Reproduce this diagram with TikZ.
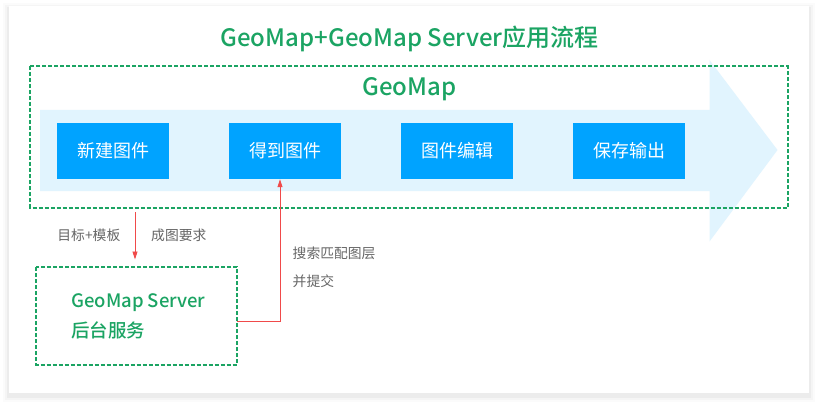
\documentclass[tikz,border=0pt]{standalone}
\usepackage{fontspec}
\setmainfont{Noto Sans CJK SC}
\newfontfamily\medfont{Noto Sans CJK SC Medium}
\usetikzlibrary{arrows.meta}
\definecolor{gmgreen}{HTML}{1BA463}
\definecolor{gmblue}{HTML}{00A3FF}
\definecolor{gmband}{HTML}{E1F4FE}
\definecolor{gmred}{HTML}{F04A4A}
\definecolor{gmgray}{HTML}{666666}
\tikzset{
  stepbox/.style={fill=gmblue, minimum width=112pt, minimum height=56pt, inner sep=0pt, text=white, font=\fontsize{18}{21}\selectfont},
  greendash/.style={draw=gmgreen, line width=2pt, dash pattern=on 4pt off 2pt},
  redline/.style={draw=gmred, line width=0.9pt},
  redtip/.style={-{Triangle[length=8pt,width=5pt]}},
  lbl/.style={text=gmgray, font=\fontsize{13.8}{16}\selectfont, inner sep=0pt},
  heading/.style={text=gmgreen, font=\medfont\fontsize{24}{28}\selectfont},
  srvtext/.style={text=gmgreen, font=\medfont\fontsize{18.5}{22}\selectfont, anchor=west, inner sep=0pt},
}
\begin{document}
\begin{tikzpicture}[x=1pt,y=-1pt]
\useasboundingbox (0,0) rectangle (818,406);
% card shadow
\foreach \d/\o in {6/0.015,4/0.025,2/0.035}{
  \fill[black,opacity=\o] (9-\d,6-\d+3) rectangle (809+\d,393+\d+3);
}
\fill[white] (9,6) rectangle (809,393);
% title
\node[heading] (title) at (409.5,39) {GeoMap+GeoMap Server应用流程};
% big arrow
\fill[gmband] (40,110) -- (709.5,110) -- (709.5,60) -- (777.5,150) -- (709.5,241.5) -- (709.5,191) -- (40,191) -- cycle;
% frame
\draw[greendash] (30,66) rectangle (787.5,207.5);
\coordinate (frameS) at (135,212);
\node[heading] (geomap) at (409.5,89) {GeoMap};
% step boxes
\node[stepbox] (s1) at (113,151) {新建图件};
\node[stepbox] (s2) at (285,151) {得到图件};
\node[stepbox] (s3) at (457,151) {图件编辑};
\node[stepbox] (s4) at (629,151) {保存输出};
% server box
\draw[greendash] (36,267) rectangle (237,364.5);
\node[inner sep=0pt, minimum width=201pt, minimum height=97.5pt] (server) at (136.5,315.75) {};
\node[srvtext] (sv1) at (71,302.5) {GeoMap Server};
\node[srvtext] (sv2) at (71,330) {后台服务};
% red connectors
\coordinate (down1) at (135,259.5);
\draw[redline, redtip] (frameS) -- (down1);
\coordinate (bend) at (280,321.5);
\draw[redline, redtip] (server.east |- bend) -- (bend) -- (bend |- s2.south);
% labels
\node[lbl, anchor=east] (l1) at (120.5,235) {目标+模板};
\node[lbl, anchor=west] (l2) at (151,235) {成图要求};
\node[lbl, anchor=west] (l3) at (292.5,253) {搜索匹配图层};
\node[lbl, anchor=west] (l4) at (292.5,281) {并提交};
\end{tikzpicture}
\end{document}
